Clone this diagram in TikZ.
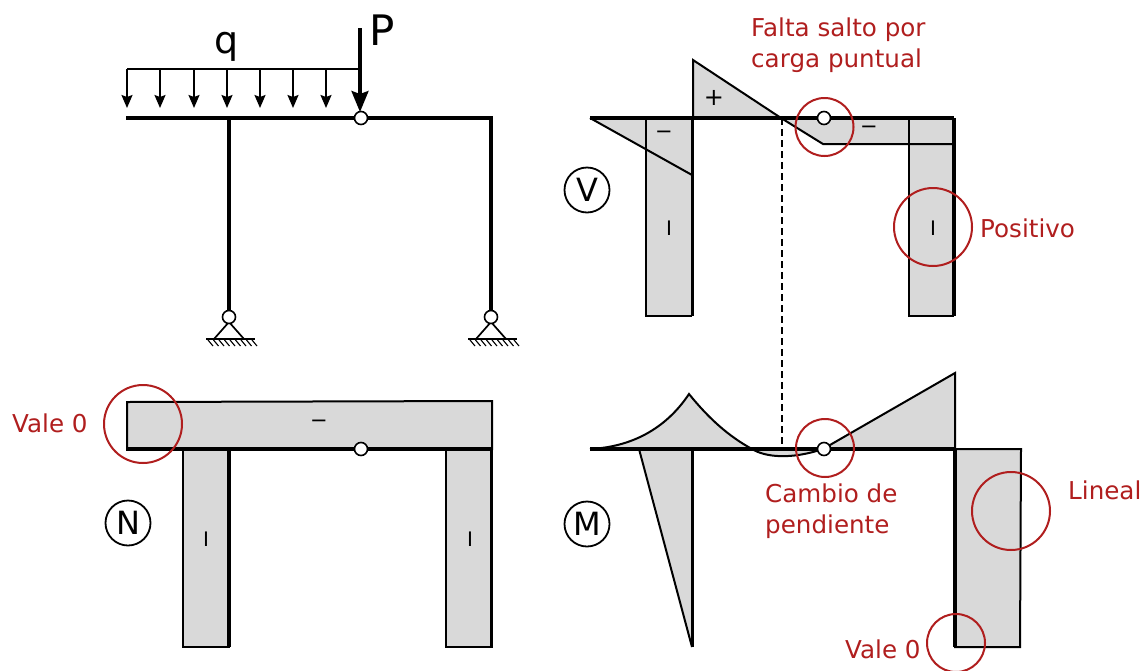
\documentclass[tikz,border=0pt]{standalone}
\usepackage{fontspec}
\setmainfont{DejaVu Sans}
\usetikzlibrary{arrows.meta,patterns}
\definecolor{redc}{HTML}{B01E1E}
\definecolor{greyf}{HTML}{D9D9D9}
\tikzset{
  x=1pt,y=-1pt,
  beam/.style={line width=3.4pt,black},
  thin line/.style={line width=2pt,black},
  area/.style={fill=greyf,draw=black,line width=2pt,line join=miter},
  hinge/.style={circle,draw=black,fill=white,line width=1.6pt,minimum size=13pt,inner sep=0pt},
  mark ring/.style={circle,draw=redc,line width=2pt,inner sep=0pt},
  small ring/.style={mark ring,minimum size=58pt},
  big ring/.style={mark ring,minimum size=78pt},
  label ring/.style={circle,draw=black,line width=1.8pt,minimum size=45pt,inner sep=0pt,font=\fontsize{32}{32}\selectfont},
  note/.style={text=redc,font=\fontsize{24.6}{31}\selectfont,inner sep=0pt,align=left},
  sign/.style={font=\fontsize{24}{24}\selectfont,inner sep=0pt},
  minus sign/.style={font=\fontsize{21}{21}\selectfont,inner sep=0pt},
  bar sign/.style={font=\fontsize{20}{20}\selectfont,inner sep=0pt},
  load/.style={line width=1.8pt,-{Stealth[length=13pt,width=11pt,inset=2pt]}},
}
\newcommand{\groundsup}[2]{%
  \draw[line width=1.7pt] (#1-15,339) -- (#1,322) -- (#1+15,339);
  \draw[line width=2pt] (#1-23,339) -- (#1+26,339);
  \foreach \k in {0,...,8} \draw[line width=1.1pt] (#1-21+\k*5.5,340) -- (#1-16+\k*5.5,346);
  \node[hinge] (#2) at (#1,317) {};
}
\begin{document}
\begin{tikzpicture}
\useasboundingbox (0,0) rectangle (1148,670);
% Structure
\draw[beam] (126,118) -- (492,118);
\draw[beam] (229,118) -- (229,312);
\draw[beam] (491,116.3) -- (491,312);
\draw[line width=2pt] (127,69) -- (360,69);
\foreach \x in {127,160,194,227,260,293,326} \draw[load] (\x,69) -- (\x,108);
\draw[line width=3.2pt,-{Stealth[length=21pt,width=17pt,inset=3pt]}] (360,28) -- (360,112);
\node[hinge] (h1) at (361,118) {};
\groundsup{229}{s1}
\groundsup{491}{s2}
\node[inner sep=0pt,font=\fontsize{38}{38}\selectfont] (q) at (227,47) {q};
\node[inner sep=0pt,font=\fontsize{42}{42}\selectfont] (P) at (382,30) {P};
% V diagram
\path[fill=greyf] (646,118) rectangle (692,316);
\path[fill=greyf] (909,118) rectangle (954,316);
\path[fill=greyf] (590,118) -- (692,118) -- (692,175) -- cycle;
\path[fill=greyf] (693,60) -- (781,118) -- (693,118) -- cycle;
\path[fill=greyf] (781,118) -- (823,144) -- (953,144) -- (953,118) -- cycle;
\draw[thin line] (646,118) -- (646,316) -- (692,316);
\draw[thin line] (909,118) -- (909,316) -- (954,316);
\draw[thin line] (590,118) -- (692,175);
\draw[thin line] (693,118) -- (693,60) -- (781,118) -- (823,144) -- (953,144);
\draw[beam] (590,118) -- (954,118);
\draw[beam] (692.5,118) -- (692.5,316);
\draw[beam] (954,118) -- (954,316);
\draw[line width=1.8pt,dash pattern=on 7pt off 4pt] (782,118) -- (782,456);
\node[hinge] (h2) at (824,118) {};
\node[sign] at (714,98) {+};
\node[minus sign] at (664,135) {−};
\node[minus sign] at (869,130) {−};
\node[bar sign] at (669,228) {I};
\node[bar sign] at (933,228) {I};
\node[label ring] (V) at (587,190) {V};
\node[small ring] (r1) at (824.5,127) {};
\node[big ring] (r2) at (933,227) {};
\node[note,anchor=west] (t1) at (751,45) {Falta salto por\\carga puntual};
\node[note,anchor=west] (t2) at (980,228) {Positivo};
% N diagram
\draw[area] (127,402) -- (492,401) -- (492,449) -- (127,449) -- cycle;
\draw[area] (183,449) rectangle (229,647);
\draw[area] (446,449) rectangle (492,647);
\draw[beam] (126,449) -- (492,449);
\draw[beam] (229,449) -- (229,647);
\draw[beam] (491.5,449) -- (491.5,647);
\node[hinge] (h3) at (361,449) {};
\node[minus sign] at (319,424) {−};
\node[bar sign] at (206,539) {I};
\node[bar sign] at (470,539) {I};
\node[label ring] (N) at (128,523) {N};
\node[big ring] (r3) at (143,424) {};
\node[note,anchor=west] (t3) at (12,423) {Vale 0};
% M diagram
\path[fill=greyf] (590,449) .. controls (630,447) and (665,430) .. (689,394) .. controls (710,420) and (730,437) .. (752,449) -- cycle;
\path[fill=greyf] (752,449) .. controls (765,457) and (790,460) .. (823,449) -- cycle;
\path[fill=greyf] (823,449) -- (955,373) -- (955,449) -- cycle;
\path[fill=greyf] (639,449) -- (692,449) -- (692,647) -- cycle;
\path[fill=greyf] (954,449) rectangle (1021,647);
\draw[thin line] (590,449) .. controls (630,447) and (665,430) .. (689,394) .. controls (710,420) and (730,437) .. (752,449) .. controls (765,457) and (790,460) .. (823,449);
\draw[thin line] (823,449) -- (955,373) -- (955,449);
\draw[thin line] (639,449) -- (692,647);
\draw[thin line] (954,449) -- (1021,449) -- (1020,647) -- (954,647);
\draw[beam] (590,449) -- (955,449);
\draw[beam] (692.5,449) -- (692.5,647);
\draw[beam] (955,449) -- (955,647);
\node[hinge] (h4) at (824,449) {};
\node[label ring] (M) at (587,524) {M};
\node[small ring] (r4) at (825,448) {};
\node[big ring] (r5) at (1011,511) {};
\begin{scope}
\clip (0,0) rectangle (1148,670);
\node[small ring] (r6) at (956,643) {};
\end{scope}
\node[note,anchor=west] (t4) at (765,511) {Cambio de\\pendiente};
\node[note,anchor=west] (t5) at (1068,490) {Lineal};
\node[note,anchor=west] (t6) at (845,649) {Vale 0};
\end{tikzpicture}
\end{document}
